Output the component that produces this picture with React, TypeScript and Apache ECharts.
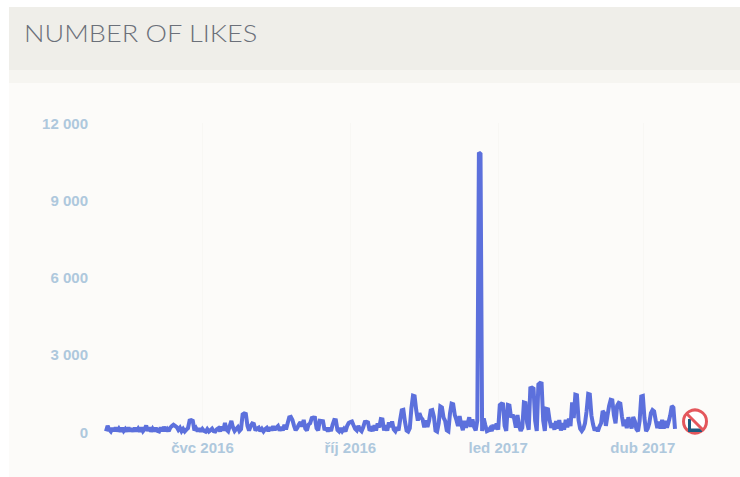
import React, { useEffect, useRef } from "react";
import * as echarts from "echarts";

const startDay = Date.UTC(2016, 4, 2);
const likes = [
  30,240,90,20,150,40,170,30,130,20,
  160,40,120,20,170,30,140,20,160,30,
  130,20,170,30,110,250,40,170,20,130,
  30,160,40,20,170,30,200,40,120,30,
  170,230,280,240,190,80,160,30,120,20,
  90,150,440,460,430,60,150,30,140,20,
  120,40,10,110,20,70,130,30,20,110,
  150,30,210,60,350,90,30,240,430,180,
  40,120,190,40,110,680,720,700,240,50,
  230,330,310,60,130,170,30,120,20,110,
  160,30,190,60,220,80,170,230,50,190,
  60,280,100,340,570,590,470,240,70,160,
  290,380,210,470,130,60,290,340,540,560,
  550,150,60,440,430,420,70,160,20,160,
  40,290,470,460,80,20,150,30,120,20,
  230,350,390,410,260,120,60,240,90,30,
  180,390,400,370,50,130,40,260,60,330,
  180,500,490,60,260,50,370,190,410,100,
  30,180,60,470,840,860,400,60,20,150,
  920,1410,1390,850,440,730,560,480,180,450,
  190,430,830,850,600,60,20,340,990,950,
  560,430,70,30,720,1100,1080,660,470,230,
  620,300,70,430,170,340,570,200,490,200,
  60,440,10850,10800,40,530,260,30,60,150,
  40,280,120,330,90,1050,1100,1080,240,40,
  1050,1030,560,670,500,170,660,240,40,170,
  1150,1130,350,90,1700,1720,1680,440,40,1850,
  1900,1880,440,40,900,880,450,160,340,90,
  420,130,460,60,340,90,470,180,520,230,
  1150,540,1450,1430,460,130,40,130,340,810,
  1480,1460,640,300,60,170,30,210,340,820,
  730,240,640,1010,1250,1230,650,340,1020,1130,
  1100,600,230,480,150,570,330,140,580,420,
  110,30,440,1380,1400,540,30,130,340,730,
  850,800,450,150,400,130,470,130,430,170,
  390,640,1010,950,120,
];
const categories = likes.map((_, i) =>
  new Date(startDay + i * 86400000).toISOString().slice(0, 10)
);
const monthTicks: Record<string, string> = {
  "2016-07-01": "čvc 2016",
  "2016-10-01": "říj 2016",
  "2017-01-01": "led 2017",
  "2017-04-01": "dub 2017",
};
const title = "NUMBER OF LIKES";

export default function App() {
  const ref = useRef<HTMLDivElement>(null);
  useEffect(() => {
    const chart = echarts.init(ref.current!, null, { renderer: "svg" });
    const isTick = (i: number) => categories[i] in monthTicks;
    chart.setOption({
      animation: false,
      backgroundColor: "#ffffff",
      grid: { left: 106, right: 65, top: 123, bottom: 45 },
      xAxis: {
        type: "category",
        data: categories,
        boundaryGap: false,
        axisLine: { show: false },
        axisTick: { show: false },
        axisLabel: {
          interval: (i: number) => isTick(i),
          formatter: (v: string) => monthTicks[v] ?? "",
          color: "#aec8dd",
          fontFamily: "Liberation Sans",
          fontSize: 15,
          fontWeight: "bold",
          margin: 8,
        },
        splitLine: {
          show: true,
          interval: (i: number) => isTick(i),
          lineStyle: { color: "#f8f7f4", width: 1 },
        },
      },
      yAxis: {
        type: "value",
        min: 0,
        max: 12000,
        interval: 3000,
        axisLine: { show: false },
        axisTick: { show: false },
        splitLine: { show: false },
        axisLabel: {
          formatter: (v: number) => String(v).replace(/\B(?=(\d{3})+$)/g, " "),
          color: "#aec8dd",
          fontFamily: "Liberation Sans",
          fontSize: 15,
          fontWeight: "bold",
          margin: 18,
        },
      },
      series: [
        {
          type: "line",
          data: likes,
          showSymbol: false,
          clip: false,
          lineStyle: { color: "#5c70dc", width: 4, join: "miter", miterLimit: 2 },
        },
      ],
      graphic: [
        { type: "rect", z: -10, shape: { x: 9, y: 7, width: 731, height: 470 }, style: { fill: "#fcfbf9" } },
        { type: "rect", z: -9, shape: { x: 9, y: 7, width: 731, height: 63 }, style: { fill: "#efeee9" } },
        { type: "rect", z: -9, shape: { x: 9, y: 70, width: 731, height: 13 }, style: { fill: "#f6f5f1" } },
        {
          type: "text",
          z: 5,
          x: 24,
          y: 33,
          scaleX: 1.13,
          style: {
            text: title,
            fill: "#6b7079",
            fontFamily: "Lato",
            fontSize: 24,
            fontWeight: 300,
            verticalAlign: "middle",
          },
        },
        { type: "circle", z: 10, shape: { cx: 695, cy: 421.5, r: 11.5 }, style: { fill: "#ffffff", stroke: "#e4575c", lineWidth: 3 } },
        { type: "polygon", z: 11, shape: { points: [[688, 419], [691, 419], [691, 428.5], [702, 428.5], [702, 432], [688, 432]] }, style: { fill: "#1c5a80" } },
        { type: "line", z: 12, shape: { x1: 687, y1: 414, x2: 703, y2: 430 }, style: { stroke: "#e4575c", lineWidth: 3 } },
      ],
    });
    return () => chart.dispose();
  }, []);
  return (
    <div
      ref={ref}
      style={{ position: "absolute", left: 0, top: 0, width: 740, height: 477 }}
    />
  );
}
